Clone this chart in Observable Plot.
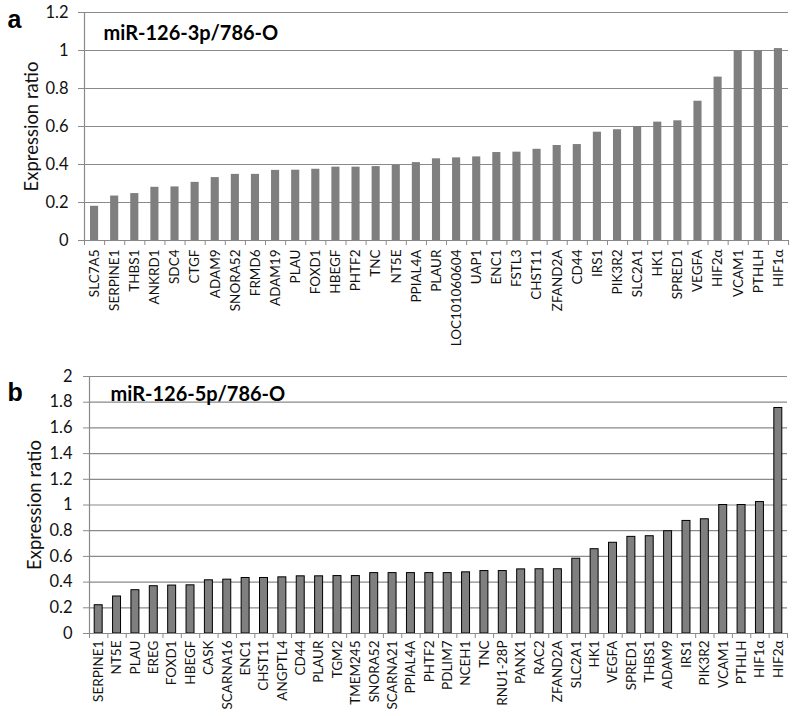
<!DOCTYPE html>
<html><head><meta charset="utf-8">
<script src="https://cdn.jsdelivr.net/npm/d3@7"></script>
<script src="https://cdn.jsdelivr.net/npm/@observablehq/plot@0.6"></script>
<style>
body{margin:0;background:#fff;}
#wrap{position:relative;width:800px;height:716px;overflow:hidden;}
.panel{position:absolute;left:0;}
</style>
</head><body><div id="wrap"></div>
<script>
const genesA = ["SLC7A5","SERPINE1","THBS1","ANKRD1","SDC4","CTGF","ADAM9","SNORA52","FRMD6","ADAM19","PLAU","FOXD1","HBEGF","PHTF2","TNC","NT5E","PPIAL4A","PLAUR","LOC101060604","UAP1","ENC1","FSTL3","CHST11","ZFAND2A","CD44","IRS1","PIK3R2","SLC2A1","HK1","SPRED1","VEGFA","HIF2α","VCAM1","PTHLH","HIF1α"];
const valuesA = [0.18,0.234,0.247,0.28,0.282,0.306,0.331,0.348,0.348,0.369,0.37,0.375,0.386,0.386,0.389,0.396,0.41,0.43,0.435,0.44,0.463,0.465,0.48,0.5,0.505,0.57,0.583,0.6,0.623,0.63,0.733,0.86,1.0,1.0,1.01];
const yTicksA = [0,0.2,0.4,0.6,0.8,1,1.2];

const genesB = ["SERPINE1","NT5E","PLAU","EREG","FOXD1","HBEGF","CASK","SCARNA16","ENC1","CHST11","ANGPTL4","CD44","PLAUR","TGM2","TMEM245","SNORA52","SCARNA21","PPIAL4A","PHTF2","PDLIM7","NCEH1","TNC","RNU1-28P","PANX1","RAC2","ZFAND2A","SLC2A1","HK1","VEGFA","SPRED1","THBS1","ADAM9","IRS1","PIK3R2","VCAM1","PTHLH","HIF1α","HIF2α"];
const valuesB = [0.22,0.288,0.337,0.368,0.373,0.375,0.414,0.419,0.432,0.432,0.437,0.445,0.445,0.447,0.447,0.47,0.47,0.47,0.47,0.47,0.476,0.486,0.486,0.499,0.5,0.5,0.582,0.656,0.706,0.752,0.757,0.796,0.876,0.889,1.0,1.0,1.023,1.755];
const yTicksB = [0,0.2,0.4,0.6,0.8,1,1.2,1.4,1.6,1.8,2];

const titleA = "miR-126-3p/786-O";
const titleB = "miR-126-5p/786-O";
const yLabel = "Expression ratio";

const GRID = "#8a8a8a";
const FONT = "Lato, 'Open Sans', sans-serif";

function panel(o) {
  const n = o.genes.length;
  const rows = o.genes.map((g, i) => ({i, gene: g, v: o.values[i]}));
  const fmt = d => String(+d.toFixed(1));
  return Plot.plot({
    width: 800, height: o.height,
    marginTop: o.mt, marginBottom: o.mb, marginLeft: o.ml, marginRight: o.mr,
    style: {fontFamily: FONT, background: "transparent", color: "#111"},
    x: {type: "linear", domain: [0, n]},
    y: {domain: [0, o.yMax]},
    marks: [
      Plot.gridY(o.yTicks, {stroke: GRID, strokeOpacity: 1, strokeWidth: 1.2}),
      Plot.rectY(rows, {x1: "i", x2: d => d.i + 1, y1: 0, y2: "v",
        insetLeft: o.inset, insetRight: o.inset, fill: "#7f7f7f",
        stroke: o.stroke, strokeWidth: 1}),
      Plot.ruleY([0], {stroke: GRID, strokeWidth: 1.2}),
      Plot.ruleX([0], {stroke: GRID, strokeWidth: 1.2}),
      Plot.axisY({ticks: o.yTicks, tickFormat: fmt, tickSize: 6, tickPadding: o.tp,
        stroke: GRID, fontSize: 16.5, label: null}),
      Plot.axisX({ticks: d3.range(n + 1), tickFormat: () => "", tickSize: 5,
        stroke: GRID, label: null}),
      Plot.axisX({ticks: d3.range(n).map(i => i + 0.5), tickFormat: d => o.genes[Math.floor(d)],
        tickSize: 0, tickPadding: o.xp, tickRotate: -90, fontSize: 13.5, label: null}),
      Plot.text([yLabel], {frameAnchor: "left", dx: o.ylx, rotate: -90, fontSize: 18.5,
        textAnchor: "middle", fontFamily: FONT, fill: "#111"}),
      Plot.text([o.title], {frameAnchor: "top-left", dx: o.tx, dy: o.ty, lineAnchor: "bottom",
        textAnchor: "start", fontWeight: "bold", fontSize: 20, fontFamily: FONT, fill: "#000"}),
      Plot.text([o.letter], {frameAnchor: "top-left", dx: o.lx, dy: o.ly, lineAnchor: "bottom",
        textAnchor: "start", fontWeight: "bold", fontSize: 25,
        fontFamily: "'Liberation Sans', Arial, sans-serif", fill: "#000"})
    ]
  });
}

const wrap = document.getElementById("wrap");
const pA = panel({genes: genesA, values: valuesA, yTicks: yTicksA, yMax: 1.2,
  height: 360, mt: 12, mb: 120, ml: 84, mr: 12, inset: 6, stroke: "none", tp: 10, xp: 9,
  ylx: -52, title: titleA, tx: 19, ty: 27, letter: "a", lx: -77, ly: 15});
pA.classList.add("panel"); pA.style.top = "0px";
wrap.appendChild(pA);

const pB = panel({genes: genesB, values: valuesB, yTicks: yTicksB, yMax: 2,
  height: 356, mt: 16, mb: 83, ml: 89, mr: 13, inset: 5.2, stroke: "#000", tp: 11, xp: 7,
  ylx: -54, title: titleB, tx: 21, ty: 24, letter: "b", lx: -82, ly: 24});
pB.classList.add("panel"); pB.style.top = "360px";
wrap.appendChild(pB);
</script>
</body></html>
